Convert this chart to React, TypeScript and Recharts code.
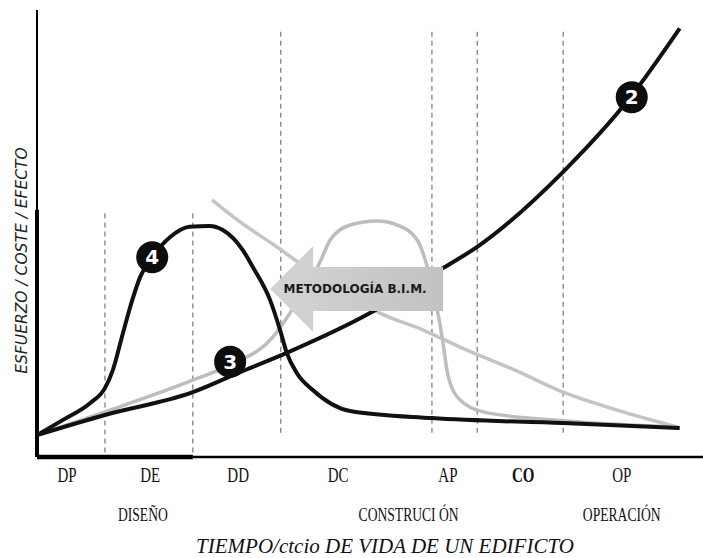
import React from "react";
import { ComposedChart, Line, Scatter, XAxis, YAxis, ReferenceLine } from "recharts";

// fases del ciclo de vida (eje X 0-100, eje Y 0-100)
const phaseLabels = ["DP", "DE", "DD", "DC", "AP", "CO", "OP"];
const phaseTicks = [4.5, 17.0, 30.2, 45.2, 61.7, 73.0, 87.8];
const stageLabels = ["DISEÑO", "CONSTRUCI ÓN", "OPERACIÓN"];
const stageTicks = [15.9, 55.8, 87.8];
const designBounds = [10.2, 23.4];
const buildBounds = [36.6, 59.3, 66.1, 79.0];

// 1: capacidad de influir en coste (gris, descendente)
const curve1T = [26.3, 30.5, 36.5, 39.0, 45.5, 51.5, 58.0, 63.5, 72.1, 79.0, 87.1, 96.2];
const curve1V = [57.5, 52.6, 46.5, 43.8, 37.6, 32.2, 28.4, 24.6, 19.2, 14.5, 10.5, 6.7];

// 2: coste de los cambios (negra, creciente)
const curve2T = [0, 10.2, 23.4, 30.5, 37.5, 50.0, 61.0, 66.1, 79.0, 89.0, 96.5];
const curve2V = [4.9, 9.4, 14.5, 19.0, 23.3, 32.2, 42.3, 47.0, 63.8, 80.3, 95.9];

// 3: proceso tradicional (gris, campana en construcción)
const curve3T = [0, 10.2, 23.4, 29.0, 35.4, 38.0, 42.5, 44.0, 47.0, 51.1, 54.1, 57.1, 58.6, 59.6, 60.4, 61.0, 61.7, 63.5, 67.0, 79.0, 96.2];
const curve3V = [4.9, 10.1, 17.2, 20.6, 26.8, 32.2, 43.6, 48.5, 51.9, 52.8, 51.9, 48.5, 42.5, 36.2, 30.6, 25.1, 18.3, 12.8, 10.1, 8.1, 6.7];

// 4: proceso BIM (negra, campana en diseño)
const curve4T = [0, 3.9, 8.0, 10.2, 11.4, 12.9, 14.3, 15.5, 17.3, 20.0, 22.9, 25.9, 27.9, 30.9, 32.4, 35.0, 36.5, 37.5, 39.0, 41.4, 47.0, 59.3, 79.0, 96.5];
const curve4V = [4.9, 8.3, 12.1, 15.4, 19.5, 27.7, 35.1, 40.3, 44.7, 49.2, 51.5, 51.7, 50.8, 46.3, 42.5, 35.1, 28.4, 23.3, 18.8, 15.0, 10.3, 8.7, 7.6, 6.5];

const markers = [
  { num: "4", t: 17.3, v: 44.7 },
  { num: "3", t: 29.0, v: 21.3 },
  { num: "2", t: 89.3, v: 80.5 },
];
const arrowTip = [{ t: 35.0, v: 37.6 }];
const arrowText = "METODOLOGÍA B.I.M.";

const toRows = (t: number[], v: number[]) => t.map((x, i) => ({ t: x, v: v[i] }));

const serif = "'Liberation Serif', 'Times New Roman', serif";

const PhaseTick = ({ x, y, payload }: any) => {
  const label = phaseLabels[phaseTicks.indexOf(payload.value)];
  return (
    <text
      transform={`translate(${x},${y + 25}) scale(1,1.35)`}
      textAnchor="middle"
      fontFamily={serif}
      fontSize={15}
      fontWeight={label === "CO" ? 700 : 400}
      fill="#111"
    >
      {label}
    </text>
  );
};

const StageTick = ({ x, y, payload }: any) => (
  <text
    transform={`translate(${x},${y + 24}) scale(1,1.4)`}
    textAnchor="middle"
    fontFamily={serif}
    fontSize={13.6}
    fill="#111"
  >
    {stageLabels[stageTicks.indexOf(payload.value)]}
  </text>
);

const TitleLabel = ({ viewBox }: any) => (
  <text
    x={viewBox.x + viewBox.width / 2 + 15}
    y={viewBox.y + 56}
    textAnchor="middle"
    fontFamily={serif}
    fontStyle="italic"
    fontSize={21}
    fill="#111"
  >
    TIEMPO/ctcio DE VIDA DE UN EDIFICTO
  </text>
);

const YTitle = ({ viewBox }: any) => {
  const cx = 27;
  const cy = viewBox.y + viewBox.height / 2 + 27;
  return (
    <text
      x={cx}
      y={cy}
      transform={`rotate(-90 ${cx} ${cy})`}
      textAnchor="middle"
      fontFamily="'DejaVu Sans', Verdana, sans-serif"
      fontStyle="italic"
      fontSize={15.5}
      fill="#222"
    >
      ESFUERZO / COSTE / EFECTO
    </text>
  );
};

const Badge = ({ cx, cy, num }: any) => (
  <g>
    <circle cx={cx} cy={cy} r={16} fill="#0d0d0d" />
    <text
      x={cx}
      y={cy + 7}
      textAnchor="middle"
      fontFamily="'DejaVu Sans', sans-serif"
      fontWeight="bold"
      fontSize={20}
      fill="#fff"
    >
      {num}
    </text>
  </g>
);

const BimArrow = ({ cx, cy }: any) => {
  const pts = [
    [0, 0],
    [43, -43],
    [43, -22],
    [173, -22],
    [173, 22],
    [43, 22],
    [43, 43],
  ]
    .map(([dx, dy]) => `${cx + dx},${cy + dy}`)
    .join(" ");
  return (
    <g>
      <defs>
        <linearGradient id="bimFill" x1="0" y1="0" x2="1" y2="0">
          <stop offset="0%" stopColor="#d4d4d4" />
          <stop offset="100%" stopColor="#c2c2c2" />
        </linearGradient>
      </defs>
      <polygon points={pts} fill="url(#bimFill)" />
      <text
        x={cx + 85}
        y={cy + 4.5}
        textAnchor="middle"
        fontFamily="'DejaVu Sans', Verdana, sans-serif"
        fontWeight="bold"
        fontSize={12}
        fill="#1a1a1a"
      >
        {arrowText}
      </text>
    </g>
  );
};

export default function App() {
  return (
    <div style={{ position: "absolute", left: 0, top: 0, width: 703, height: 558, background: "#fff" }}>
      <ComposedChart width={703} height={558} margin={{ top: 10, right: 0, bottom: 0, left: 0 }}>
        <XAxis
          dataKey="t"
          type="number"
          domain={[0, 100]}
          allowDataOverflow
          ticks={phaseTicks}
          interval={0}
          tick={<PhaseTick />}
          tickLine={false}
          tickSize={0}
          tickMargin={0}
          axisLine={{ stroke: "#000", strokeWidth: 2.5 }}
          height={40}
        />
        <XAxis
          xAxisId="stage"
          dataKey="t"
          type="number"
          domain={[0, 100]}
          allowDataOverflow
          ticks={stageTicks}
          interval={0}
          tick={<StageTick />}
          tickLine={false}
          tickSize={0}
          tickMargin={0}
          axisLine={false}
          height={61}
          label={<TitleLabel />}
        />
        <YAxis
          type="number"
          domain={[0, 100]}
          allowDataOverflow
          tick={false}
          tickLine={false}
          axisLine={{ stroke: "#000", strokeWidth: 2 }}
          width={37}
          label={<YTitle />}
        />

        {designBounds.map((b) => (
          <ReferenceLine
            key={`d${b}`}
            segment={[{ x: b, y: 1 }, { x: b, y: 55.3 }]}
            stroke="#777"
            strokeDasharray="5 4"
            strokeWidth={1.2}
          />
        ))}
        {buildBounds.map((b) => (
          <ReferenceLine
            key={`c${b}`}
            segment={[{ x: b, y: 5.4 }, { x: b, y: 95.5 }]}
            stroke="#777"
            strokeDasharray="5 4"
            strokeWidth={1.2}
          />
        ))}
        <ReferenceLine segment={[{ x: 0, y: 0 }, { x: 23.4, y: 0 }]} stroke="#000" strokeWidth={4.5} />
        <ReferenceLine segment={[{ x: 0, y: 0 }, { x: 0, y: 55.3 }]} stroke="#000" strokeWidth={4} />

        <Line data={toRows(curve1T, curve1V)} dataKey="v" type="monotone" stroke="#c4c4c4" strokeWidth={3.5} dot={false} isAnimationActive={false} />
        <Line data={toRows(curve3T, curve3V)} dataKey="v" type="monotone" stroke="#bdbdbd" strokeWidth={3.5} dot={false} isAnimationActive={false} />
        <Line data={toRows(curve2T, curve2V)} dataKey="v" type="monotone" stroke="#111" strokeWidth={4} dot={false} isAnimationActive={false} />
        <Line data={toRows(curve4T, curve4V)} dataKey="v" type="monotone" stroke="#111" strokeWidth={4} dot={false} isAnimationActive={false} />

        <Scatter data={arrowTip} dataKey="v" isAnimationActive={false} shape={(p: any) => <BimArrow {...p} />} />
        <Scatter
          data={markers}
          dataKey="v"
          isAnimationActive={false}
          shape={(p: any) => <Badge cx={p.cx} cy={p.cy} num={p.payload.num} />}
        />
      </ComposedChart>
    </div>
  );
}
